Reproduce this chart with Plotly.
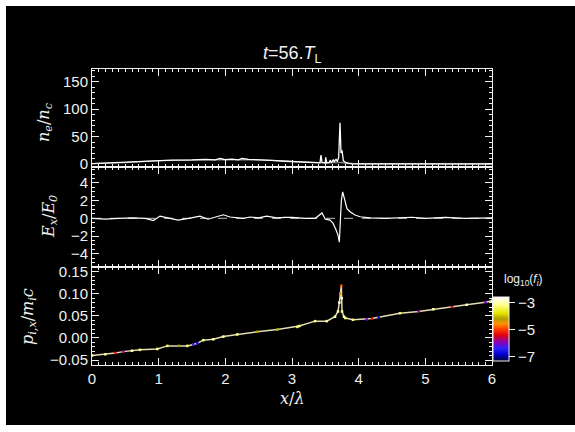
import plotly.graph_objects as go

# ---------------- data ----------------
# top panel: electron density (white) and ion density (grey)
ne_x = [0.0, 0.1, 0.2, 0.4, 0.6, 0.8, 0.95, 1.2, 1.5, 1.7, 1.85, 1.92, 2.0, 2.1, 2.2, 2.25, 2.35, 2.5,
        2.7, 2.9, 3.1, 3.3, 3.42, 3.435, 3.45, 3.5, 3.505, 3.52, 3.56, 3.575, 3.59, 3.62, 3.635, 3.66,
        3.68, 3.70, 3.71, 3.72, 3.735, 3.75, 3.77, 3.80, 3.85, 3.9, 4.0, 4.5, 5.0, 6.0]
ne_y = [0.5, 1.0, 1.5, 2.5, 3.5, 5.0, 6.5, 7.0, 7.5, 8.5, 7.5, 10.0, 8.0, 9.0, 7.5, 10.0, 8.5, 8.0,
        6.5, 5.0, 3.5, 2.5, 2.0, 16.0, 3.0, 2.0, 12.0, 2.0, 3.0, 7.0, 2.0, 8.0, 3.0, 9.0,
        4.0, 12.0, 47.0, 75.0, 20.0, 25.0, 6.0, 3.0, 1.5, 0.5, 0.3, 0.2, 0.1, 0.1]
ni_x = [0.0, 0.5, 1.0, 1.5, 2.0, 2.5, 3.0, 3.3, 3.5, 3.7, 3.75, 3.8, 3.9, 4.5, 6.0]
ni_y = [0.5, 2.5, 6.0, 7.0, 8.0, 7.5, 4.5, 2.5, 2.0, 2.5, 3.0, 1.0, 0.3, 0.1, 0.0]

# middle panel: longitudinal field
ex_x = [0.0, 0.1, 0.2, 0.4, 0.6, 0.8, 0.92, 1.02, 1.15, 1.29, 1.45, 1.62, 1.74, 1.85, 1.97, 2.07,
        2.27, 2.37, 2.5, 2.62, 2.77, 2.9, 3.0, 3.2, 3.35, 3.45, 3.5, 3.57, 3.615, 3.66, 3.69, 3.71,
        3.73, 3.74, 3.76, 3.795, 3.825, 3.87, 3.945, 4.02, 4.17, 4.4, 4.6, 4.8, 5.0, 5.3, 5.6, 6.0]
ex_y = [0.0, -0.08, -0.08, 0.0, 0.05, 0.0, -0.25, 0.25, 0.05, -0.2, 0.0, 0.25, -0.1, 0.1, 0.4, 0.15,
        0.0, 0.15, 0.05, 0.25, 0.05, 0.1, 0.1, 0.0, 0.0, 0.6, -0.1, -0.2, -0.55, -1.3, -1.9, -2.7,
        0.0, 2.0, 3.0, 1.9, 1.1, 0.75, 0.37, 0.18, 0.05, 0.0, 0.05, 0.12, 0.0, 0.1, 0.0, 0.05]
ex_ref_x = [0.0, 6.0]
ex_ref = [0.0, 0.0]

# bottom panel: ion phase space p_x(x), coloured by log10(f_i)
px_x = [0.0, 0.2, 0.35, 0.47, 0.6, 0.72, 0.98, 1.13, 1.3, 1.43, 1.52, 1.58, 1.67, 1.82, 1.97, 2.18,
        2.48, 2.78, 3.08, 3.11, 3.345, 3.52, 3.645, 3.69, 3.71, 3.725, 3.74, 3.745, 3.75, 3.78,
        3.80, 3.915, 4.12, 4.2, 4.3, 4.62, 4.9, 5.12, 5.4, 5.62, 5.9, 6.0]
px_y = [-0.040, -0.037, -0.034, -0.031, -0.029, -0.027, -0.025, -0.018, -0.018, -0.018, -0.015,
        -0.012, -0.005, -0.003, 0.003, 0.008, 0.014, 0.019, 0.025, 0.027, 0.038, 0.038, 0.048,
        0.060, 0.080, 0.100, 0.118, 0.090, 0.060, 0.048, 0.045, 0.041, 0.042, 0.044, 0.047, 0.056,
        0.060, 0.065, 0.070, 0.075, 0.081, 0.084]
px_f = [-3.3, -3.2, -5.3, -5.8, -3.1, -3.2, -3.1, -3.4, -4.2, -3.2, -6.2, -6.6, -3.1, -3.0, -3.1, -3.2,
        -4.2, -4.1, -3.3, -3.1, -3.2, -3.2, -3.1, -3.0, -2.8, -4.6, -4.8, -2.8, -3.0, -3.1,
        -3.2, -3.3, -6.0, -5.4, -6.6, -3.3, -5.9, -3.1, -5.5, -3.0, -6.0, -3.0]

x_ticks = [0, 1, 2, 3, 4, 5, 6]
ne_ticks = [0, 50, 100, 150]
ex_ticks = [-4, -2, 0, 2, 4]
px_ticks = [-0.05, 0.0, 0.05, 0.10, 0.15]
cb_ticks = [-3, -5, -7]

# ---------------- layout helpers ----------------
W, H = 575, 432
L, R, T, B = 92, 492, 69, 365


def fx(px):
    return (px - L) / (R - L)


def fy(py):
    return (B - py) / (B - T)


WHITE = "#f0f0f0"
FONT = "Liberation Sans"

colorscale = [
    [0.00, "#000030"],
    [0.10, "#0000c8"],
    [0.20, "#3020ff"],
    [0.30, "#9000b0"],
    [0.40, "#e00010"],
    [0.50, "#ff4000"],
    [0.58, "#ff9000"],
    [0.66, "#b0a000"],
    [0.75, "#e8e800"],
    [0.88, "#ffff90"],
    [1.00, "#ffffff"],
]

fig = go.Figure()

fig.add_trace(go.Scatter(x=ni_x, y=ni_y, mode="lines", line=dict(color="#8c8c8c", width=1.3),
                         xaxis="x3", yaxis="y3", showlegend=False, hoverinfo="skip"))
fig.add_trace(go.Scatter(x=ne_x, y=ne_y, mode="lines", line=dict(color="white", width=1.3),
                         xaxis="x3", yaxis="y3", showlegend=False))

fig.add_trace(go.Scatter(x=ex_ref_x, y=ex_ref, mode="lines",
                         line=dict(color="#9a9a9a", width=1.3, dash="dash"),
                         xaxis="x2", yaxis="y2", showlegend=False, hoverinfo="skip"))
fig.add_trace(go.Scatter(x=ex_x, y=ex_y, mode="lines", line=dict(color="white", width=1.2),
                         xaxis="x2", yaxis="y2", showlegend=False))

fig.add_trace(go.Scatter(
    x=px_x, y=px_y, mode="lines+markers",
    line=dict(color="#e3dcb4", width=1.5),
    marker=dict(size=2.5, symbol="square", color=px_f, colorscale=colorscale, cmin=-7.3, cmax=-2.6,
                line=dict(width=0),
                showscale=True,
                colorbar=dict(
                    x=fx(493), xanchor="left", xpad=0,
                    y=fy(329), yanchor="middle", ypad=0,
                    thickness=16, thicknessmode="pixels",
                    len=64, lenmode="pixels",
                    outlinecolor=WHITE, outlinewidth=1,
                    tickvals=cb_ticks, ticktext=["−3", "−5", "−7"],
                    ticks="outside", ticklen=6, tickcolor=WHITE,
                    tickfont=dict(color=WHITE, size=15, family=FONT),
                    bgcolor="rgba(0,0,0,0)", borderwidth=0,
                )),
    xaxis="x", yaxis="y", showlegend=False))

ax_common = dict(showline=True, linecolor=WHITE, linewidth=1, mirror="allticks",
                 ticks="inside", tickcolor=WHITE, showgrid=False, zeroline=False,
                 tickfont=dict(color=WHITE, size=15, family=FONT))

xcommon = dict(ax_common, range=[0, 6], tickvals=x_ticks, ticklen=7,
               minor=dict(dtick=0.1, ticks="inside", ticklen=3, tickcolor=WHITE, showgrid=False))

fig.update_layout(
    width=W, height=H,
    margin=dict(l=L, r=W - R, t=T, b=H - B),
    paper_bgcolor="white", plot_bgcolor="black",
    xaxis=dict(xcommon, anchor="y", domain=[0, 1], showticklabels=True),
    xaxis2=dict(xcommon, anchor="y2", matches="x", showticklabels=False),
    xaxis3=dict(xcommon, anchor="y3", matches="x", showticklabels=False),
    yaxis=dict(ax_common, domain=[0, 98 / 296], anchor="x", range=[-0.0613, 0.1606],
               tickvals=px_ticks, tickformat=".2f", ticklen=7,
               minor=dict(dtick=0.01, ticks="inside", ticklen=3, tickcolor=WHITE, showgrid=False)),
    yaxis2=dict(ax_common, domain=[98 / 296, 198 / 296], anchor="x2", range=[-5.5, 5.8],
                tickvals=ex_ticks, ticklen=7,
                minor=dict(dtick=0.5, ticks="inside", ticklen=3, tickcolor=WHITE, showgrid=False)),
    yaxis3=dict(ax_common, domain=[198 / 296, 1], anchor="x3", range=[-5.5, 173],
                tickvals=ne_ticks, ticklen=7,
                minor=dict(dtick=10, ticks="inside", ticklen=3, tickcolor=WHITE, showgrid=False)),
    shapes=[dict(type="rect", xref="paper", yref="paper", layer="below",
                 x0=fx(6), x1=fx(575), y0=fy(425), y1=fy(6),
                 fillcolor="black", line=dict(width=0))],
    annotations=[
        dict(text="<i>t</i>=56.<i>T</i><sub>L</sub>", x=fx(292), y=fy(55), xref="paper", yref="paper",
             showarrow=False, xanchor="center", yanchor="middle",
             font=dict(color=WHITE, size=18, family=FONT)),
        dict(text="<i>n<sub>e</sub></i>/<i>n<sub>c</sub></i>", x=fx(44), y=fy(122), xref="paper",
             yref="paper", showarrow=False, textangle=-90, xanchor="center", yanchor="middle",
             font=dict(color=WHITE, size=16, family="DejaVu Serif")),
        dict(text="<i>E<sub>x</sub></i>/<i>E<sub>0</sub></i>", x=fx(49), y=fy(217), xref="paper",
             yref="paper", showarrow=False, textangle=-90, xanchor="center", yanchor="middle",
             font=dict(color=WHITE, size=16, family="DejaVu Serif")),
        dict(text="<i>p<sub>i,x</sub></i>/<i>m<sub>i</sub>c</i>", x=fx(28), y=fy(317), xref="paper",
             yref="paper", showarrow=False, textangle=-90, xanchor="center", yanchor="middle",
             font=dict(color=WHITE, size=16, family="DejaVu Serif")),
        dict(text="<i>x</i>/<i>λ</i>", x=fx(292), y=fy(398), xref="paper", yref="paper",
             showarrow=False, xanchor="center", yanchor="middle",
             font=dict(color=WHITE, size=16, family="DejaVu Serif")),
        dict(text="log<sub>10</sub>(<i>f<sub>i</sub></i>)", x=fx(523), y=fy(280), xref="paper",
             yref="paper", showarrow=False, xanchor="center", yanchor="middle",
             font=dict(color=WHITE, size=12, family=FONT)),
    ],
)

fig.write_html("out.html")
